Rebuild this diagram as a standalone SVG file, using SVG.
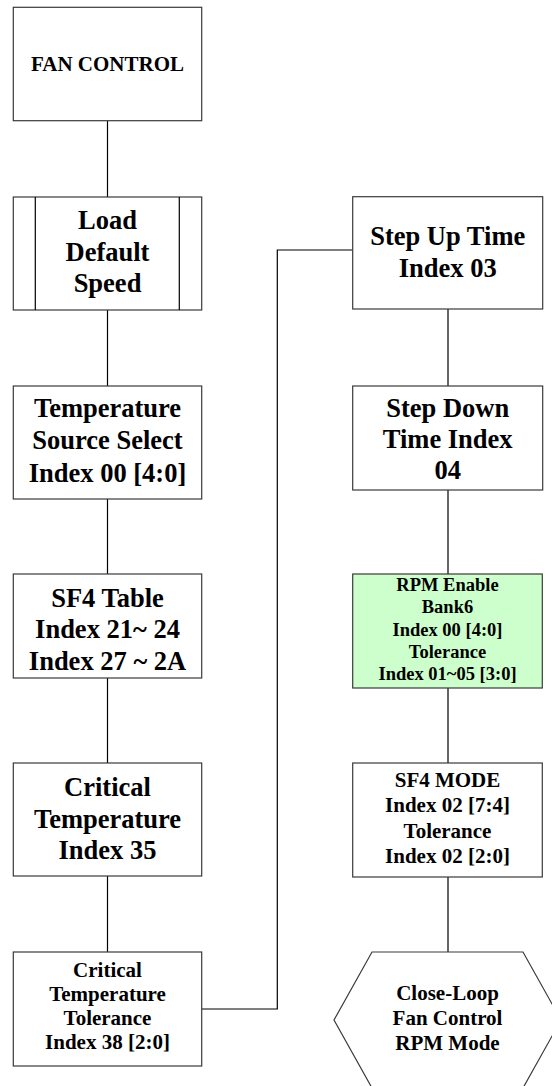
<svg xmlns="http://www.w3.org/2000/svg" width="552" height="1086" viewBox="0 0 552 1086">
<style>
.box{fill:#ffffff;stroke:#3a3a3a;stroke-width:1.2}
.green{fill:#ccffcc}
.ln{fill:none;stroke:#000;stroke-width:1.2}
.t{font-family:"Liberation Serif","Times New Roman",serif;font-weight:bold;fill:#000;text-anchor:middle}
.big{font-size:26.5px}
.mid{font-size:21px}
.sm{font-size:18.5px}
</style>
<rect width="552" height="1086" fill="#ffffff"/>
<g id="connectors">
<path class="ln" d="M107.5,121V197M107.5,310V386M107.5,499V574M107.5,678V763M107.5,876V952"/>
<path class="ln" d="M448,309V386M448,490V574M448,688V763M448,877V952"/>
<path class="ln" stroke-width="1.6" d="M201.7,1009H277.3V250H352.7"/>
</g>
<g id="fan-control">
<rect class="box" x="13.3" y="7.3" width="188.4" height="113.4"/>
<text class="t mid" x="107.5" y="71">FAN CONTROL</text>
</g>
<g id="load-default-speed">
<rect class="box" x="13.3" y="197" width="188.4" height="113"/>
<path class="ln" d="M35.3,197V310M179.3,197V310"/>
<text class="t big" x="107.5" y="229">Load</text>
<text class="t big" x="107.5" y="261">Default</text>
<text class="t big" x="107.5" y="292">Speed</text>
</g>
<g id="temp-source">
<rect class="box" x="13.3" y="386" width="188.4" height="113"/>
<text class="t big" x="107.5" y="417">Temperature</text>
<text class="t big" x="107.5" y="449">Source Select</text>
<text class="t big" x="107.5" y="482">Index 00 [4:0]</text>
</g>
<g id="sf4-table">
<rect class="box" x="13.3" y="574" width="188.4" height="104"/>
<text class="t big" x="107.5" y="607">SF4 Table</text>
<text class="t big" x="107.5" y="638">Index 21~ 24</text>
<text class="t big" x="107.5" y="670">Index 27 ~ 2A</text>
</g>
<g id="critical-temp">
<rect class="box" x="13.3" y="763" width="188.4" height="113"/>
<text class="t big" x="107.5" y="796">Critical</text>
<text class="t big" x="107.5" y="828">Temperature</text>
<text class="t big" x="107.5" y="859">Index 35</text>
</g>
<g id="critical-temp-tolerance">
<rect class="box" x="13.3" y="952" width="188.4" height="114"/>
<text class="t mid" x="107.5" y="977">Critical</text>
<text class="t mid" x="107.5" y="1001">Temperature</text>
<text class="t mid" x="107.5" y="1025">Tolerance</text>
<text class="t mid" x="107.5" y="1049">Index 38 [2:0]</text>
</g>
<g id="step-up">
<rect class="box" x="352.7" y="196.7" width="190" height="112.3"/>
<text class="t big" x="447.7" y="245">Step Up Time</text>
<text class="t big" x="447.7" y="277">Index 03</text>
</g>
<g id="step-down">
<rect class="box" x="352.7" y="386" width="190" height="104"/>
<text class="t big" x="447.7" y="417">Step Down</text>
<text class="t big" x="447.7" y="448">Time Index</text>
<text class="t big" x="447.7" y="479">04</text>
</g>
<g id="rpm-enable">
<rect class="box green" x="352.7" y="574" width="189.6" height="114"/>
<text class="t sm" x="447.5" y="591">RPM Enable</text>
<text class="t sm" x="447.5" y="613">Bank6</text>
<text class="t sm" x="447.5" y="636">Index 00 [4:0]</text>
<text class="t sm" x="447.5" y="658">Tolerance</text>
<text class="t sm" x="447.5" y="680">Index 01~05 [3:0]</text>
</g>
<g id="sf4-mode">
<rect class="box" x="352.7" y="763" width="189.6" height="114"/>
<text class="t mid" x="447.5" y="787">SF4 MODE</text>
<text class="t mid" x="447.5" y="812">Index 02 [7:4]</text>
<text class="t mid" x="447.5" y="838">Tolerance</text>
<text class="t mid" x="447.5" y="863">Index 02 [2:0]</text>
</g>
<g id="close-loop">
<polygon class="box" points="372,952 523,952 561,1020 523,1088 372,1088 334,1020"/>
<text class="t mid" x="447.5" y="1000">Close-Loop</text>
<text class="t mid" x="447.5" y="1025">Fan Control</text>
<text class="t mid" x="447.5" y="1050">RPM Mode</text>
</g>
</svg>
